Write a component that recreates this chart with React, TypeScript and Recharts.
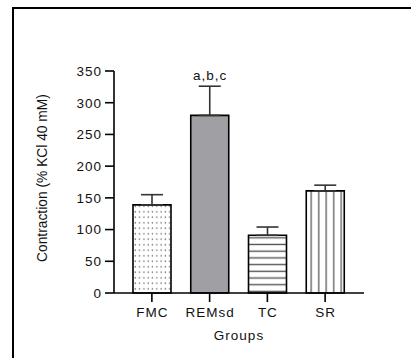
import { BarChart, Bar, XAxis, YAxis, ErrorBar, Cell, ReferenceDot } from 'recharts';

const groups = ['FMC', 'REMsd', 'TC', 'SR'];
const means = [139, 280, 91, 161];
const sems = [16, 46, 13, 9];
const marks = ['', 'a,b,c', '', ''];
const yTicks = [0, 50, 100, 150, 200, 250, 300, 350];

const data = groups.map((g, i) => ({ group: g, mean: means[i], err: [0, sems[i]] }));

const fills = ['url(#dots)', '#a0a0a4', 'url(#hlines)', 'url(#vlines)'];
const font = '"Liberation Sans", Arial, sans-serif';
const txt = { fontSize: 13.5, fill: '#111', fontFamily: font, letterSpacing: '1px' };

function XTick({ x, y, payload }: any) {
  return (
    <text x={x + 0.5} y={y} dy="0.71em" textAnchor="middle" style={txt}>
      {payload.value}
    </text>
  );
}

function YTick({ x, y, payload }: any) {
  return (
    <text x={x + 1} y={y} dy="0.36em" textAnchor="end" style={txt}>
      {payload.value}
    </text>
  );
}

function XLabel({ viewBox }: any) {
  return (
    <text x={viewBox.x + viewBox.width / 2} y={viewBox.y + 47} textAnchor="middle" style={txt}>
      Groups
    </text>
  );
}

function YLabel({ viewBox }: any) {
  const cx = viewBox.x + 42;
  const cy = viewBox.y + viewBox.height / 2 - 4;
  return (
    <text
      x={cx}
      y={cy}
      transform={`rotate(-90, ${cx}, ${cy})`}
      textAnchor="middle"
      dominantBaseline="central"
      style={{ fontSize: 13.8, fill: '#111', fontFamily: font }}
    >
      Contraction (% KCl 40 mM)
    </text>
  );
}

function Mark({ viewBox, value }: any) {
  return (
    <text x={viewBox.x + 0.5} y={viewBox.y - 6} textAnchor="middle" style={txt}>
      {value}
    </text>
  );
}

export default function App() {
  return (
    <div style={{ position: 'absolute', left: 0, top: 0, width: 411, height: 358, background: '#fff', overflow: 'hidden' }}>
      <div
        style={{
          position: 'absolute', left: 12, top: 7, width: 420, height: 400,
          borderLeft: '2px solid #000', borderTop: '2px solid #000',
        }}
      />
      <div style={{ position: 'absolute', left: 0, top: 0 }}>
        <BarChart width={411} height={358} data={data} margin={{ top: 71, right: 47, left: 0, bottom: 10 }}>
          <defs>
            <pattern id="dots" width="4.3" height="5.5" patternUnits="userSpaceOnUse">
              <rect width="4.3" height="5.5" fill="#fff" />
              <circle cx="2" cy="2.7" r="0.75" fill="#444" />
            </pattern>
            <pattern id="hlines" width="10" height="6.7" patternUnits="userSpaceOnUse">
              <rect width="10" height="6.7" fill="#fff" />
              <line x1="0" y1="3.3" x2="10" y2="3.3" stroke="#555" strokeWidth="1.4" />
            </pattern>
            <pattern id="vlines" width="7.5" height="10" patternUnits="userSpaceOnUse">
              <rect width="7.5" height="10" fill="#fff" />
              <line x1="3.7" y1="0" x2="3.7" y2="10" stroke="#666" strokeWidth="1.4" />
            </pattern>
          </defs>
          <XAxis
            dataKey="group"
            height={55}
            padding={{ left: 9, right: 10 }}
            axisLine={{ stroke: '#000', strokeWidth: 1.6 }}
            tickLine={{ stroke: '#000', strokeWidth: 1.6 }}
            tickSize={9}
            tickMargin={5}
            tick={<XTick />}
            label={<XLabel />}
          />
          <YAxis
            width={114}
            domain={[0, 350]}
            ticks={yTicks}
            interval={0}
            axisLine={{ stroke: '#000', strokeWidth: 1.6 }}
            tickLine={{ stroke: '#000', strokeWidth: 1.6 }}
            tickSize={9}
            tickMargin={4}
            tick={<YTick />}
            label={<YLabel />}
          />
          <Bar dataKey="mean" barSize={38} stroke="#000" strokeWidth={1.6} isAnimationActive={false}>
            {data.map((d, i) => (
              <Cell key={d.group} fill={fills[i]} />
            ))}
            <ErrorBar dataKey="err" direction="y" width={11} stroke="#333" strokeWidth={1.6} isAnimationActive={false} />
          </Bar>
          {groups.map((g, i) =>
            marks[i] ? (
              <ReferenceDot
                key={g}
                x={g}
                y={means[i] + sems[i]}
                r={0}
                fill="none"
                stroke="none"
                ifOverflow="visible"
                label={<Mark value={marks[i]} />}
              />
            ) : null
          )}
        </BarChart>
      </div>
    </div>
  );
}
